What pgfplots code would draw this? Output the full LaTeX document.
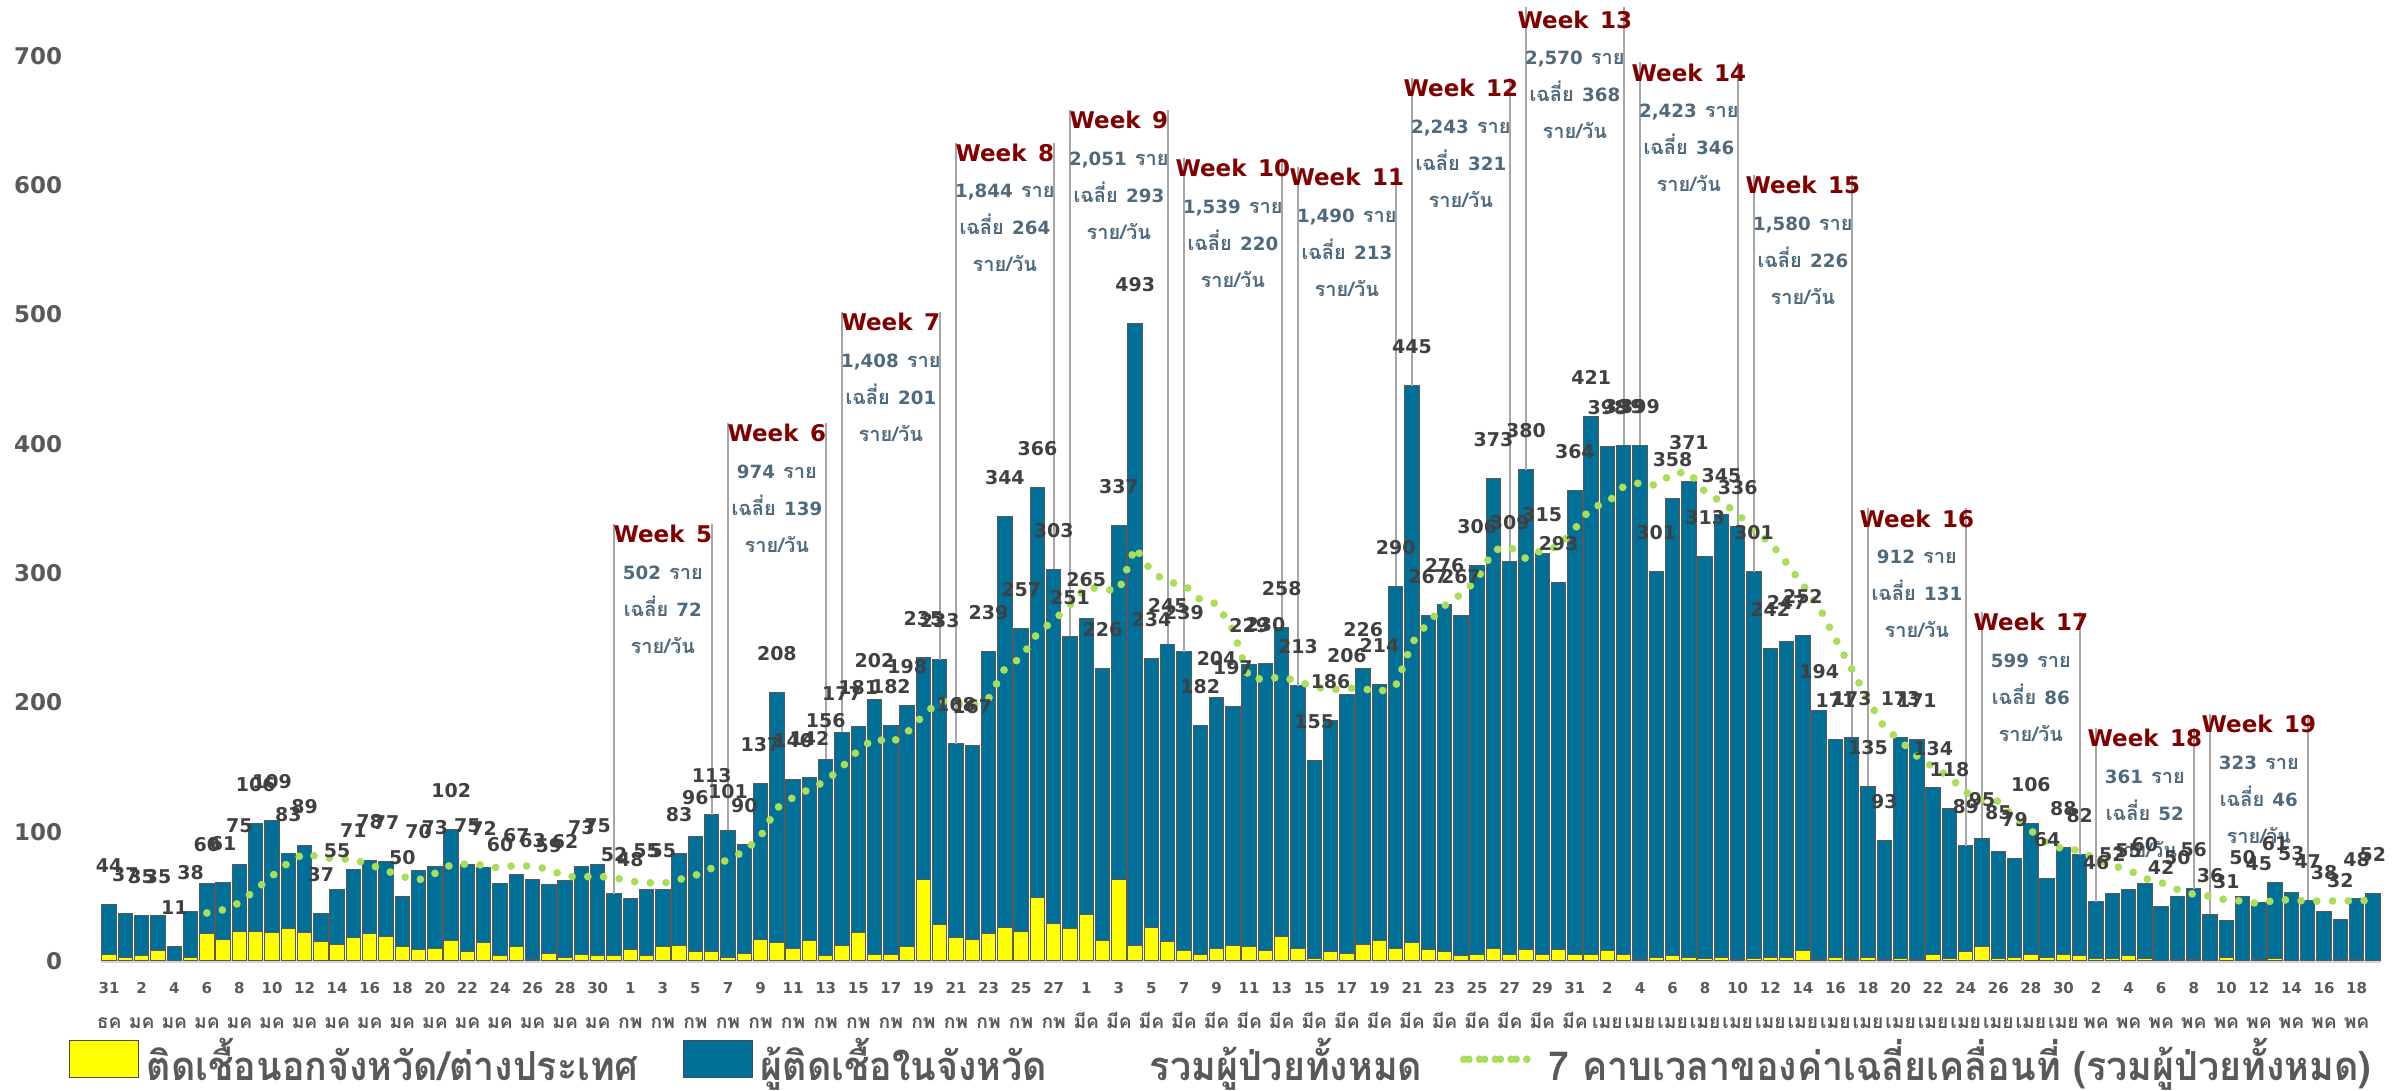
\documentclass[border=0pt]{standalone}
\usepackage{pgfplots}
\usepackage{pgfplotstable}
\pgfplotsset{compat=1.18}
\usepackage{fontspec}
\setmainfont{DejaVu Sans}
\newfontfamily\thai[Script=Thai]{Loma}
\newfontfamily\thaileg[Script=Thai, FakeStretch=0.94]{Loma}
\definecolor{barblue}{RGB}{0,112,153}
\definecolor{baryel}{RGB}{255,255,0}
\definecolor{magreen}{RGB}{170,222,90}
\definecolor{wkred}{RGB}{128,0,0}
\definecolor{wkbody}{RGB}{80,106,125}
\definecolor{lblgray}{RGB}{64,64,64}
\definecolor{tickgray}{RGB}{89,89,89}
\definecolor{linegray}{RGB}{166,166,166}

\pgfplotstableread{
x outp inp tot ma
0 5 39 44 nan
1 3 34 37 nan
2 4 31 35 nan
3 8 27 35 nan
4 0 11 11 nan
5 3 35 38 nan
6 21 39 60 37.14
7 17 44 61 39.57
8 23 52 75 45.00
9 23 83 106 55.14
10 22 87 109 65.71
11 25 58 83 76.00
12 22 67 89 83.29
13 15 22 37 80.00
14 13 42 55 79.14
15 18 53 71 78.57
16 21 57 78 74.57
17 19 58 77 70.00
18 11 39 50 65.29
19 9 61 70 62.57
20 10 63 73 67.71
21 16 86 102 74.43
22 7 68 75 75.00
23 14 58 72 74.14
24 4 56 60 71.71
25 11 56 67 74.14
26 1 62 63 73.14
27 6 53 59 71.14
28 3 59 62 65.43
29 5 68 73 65.14
30 4 71 75 65.57
31 4 48 52 64.43
32 9 39 48 61.71
33 4 51 55 60.57
34 11 44 55 60.00
35 12 71 83 63.00
36 7 89 96 66.29
37 7 106 113 71.71
38 3 98 101 78.71
39 6 84 90 84.71
40 17 120 137 96.43
41 14 194 208 118.29
42 10 130 140 126.43
43 16 126 142 133.00
44 4 152 156 139.14
45 12 165 177 150.00
46 22 159 181 163.00
47 5 197 202 172.29
48 5 177 182 168.57
49 11 187 198 176.86
50 63 172 235 190.14
51 28 205 233 201.14
52 18 150 168 199.86
53 17 150 167 197.86
54 21 218 239 203.14
55 26 318 344 226.29
56 23 234 257 234.71
57 49 317 366 253.43
58 29 274 303 263.43
59 25 226 251 275.29
60 36 229 265 289.29
61 16 210 226 287.43
62 63 274 337 286.43
63 12 481 493 320.14
64 26 208 234 301.29
65 15 230 245 293.00
66 8 231 239 291.29
67 5 177 182 279.43
68 10 194 204 276.29
69 12 185 197 256.29
70 11 218 229 218.57
71 8 222 230 218.00
72 19 239 258 219.86
73 10 203 213 216.14
74 2 153 155 212.29
75 7 179 186 209.71
76 6 200 206 211.00
77 13 213 226 210.57
78 16 198 214 208.29
79 10 280 290 212.86
80 14 431 445 246.00
81 9 258 267 262.00
82 7 269 276 274.86
83 4 263 267 283.57
84 5 301 306 295.00
85 10 363 373 317.71
86 5 304 309 320.43
87 9 371 380 311.14
88 5 310 315 318.00
89 9 284 293 320.43
90 5 359 364 334.29
91 5 416 421 350.71
92 8 390 398 354.29
93 5 394 399 367.14
94 1 398 399 369.86
95 3 298 301 367.86
96 4 354 358 377.14
97 3 368 371 378.14
98 2 311 313 362.71
99 3 342 345 355.14
100 1 335 336 346.14
101 2 299 301 332.14
102 3 239 242 323.71
103 3 244 247 307.86
104 8 244 252 290.86
105 1 193 194 273.86
106 3 168 171 249.00
107 1 172 173 225.71
108 3 132 135 202.00
109 1 92 93 180.71
110 2 171 173 170.14
111 1 170 171 158.57
112 5 129 134 150.00
113 2 116 118 142.43
114 7 82 89 130.43
115 11 84 95 124.71
116 2 83 85 123.57
117 3 76 79 110.14
118 5 101 106 100.86
119 3 61 64 90.86
120 5 83 88 86.57
121 4 78 82 85.57
122 2 44 46 78.57
123 2 50 52 73.86
124 4 51 55 70.43
125 2 58 60 63.86
126 0 42 42 60.71
127 1 49 50 55.29
128 1 55 56 51.57
129 0 36 36 50.14
130 3 28 31 47.14
131 0 50 50 46.43
132 1 44 45 44.29
133 2 59 61 47.00
134 0 53 53 47.43
135 0 47 47 46.14
136 0 38 38 46.43
137 1 31 32 46.57
138 1 47 48 46.29
139 0 52 52 47.29
}\data

\newcommand\tl[2]{#1\\{\thai\fontsize{7.7}{14}\selectfont #2}}
\newcommand\wk[5]{%
  \node[anchor=base, yshift=-3.3pt, text=wkred, font=\fontsize{9.2}{11}\selectfont\bfseries] at (axis cs:#1,#2) {Week\hspace{0.5em}#3};
  \node[anchor=base, yshift=-17.9pt, text=wkbody, font=\fontsize{7.3}{9}\selectfont\bfseries] at (axis cs:#1,#2) {#4\hspace{0.45em}{\thai\fontsize{8}{9}\selectfont ราย}};
  \node[anchor=base, yshift=-32.7pt, text=wkbody, font=\fontsize{7.3}{9}\selectfont\bfseries] at (axis cs:#1,#2) {{\thai\fontsize{8}{9}\selectfont เฉลี่ย}\hspace{0.45em}#5};
  \node[anchor=base, yshift=-47.5pt, text=wkbody, font=\thai\fontsize{8}{9}\selectfont\bfseries] at (axis cs:#1,#2) {ราย/วัน};
}

\pgfplotsset{
  boxlegend/.style={legend image code/.code={\draw[##1] (0pt,-7.35pt) rectangle (27.5pt,7.35pt);}},
  dotlegend/.style={legend image code/.code={\path (0pt,0pt) -- (28.8pt,0pt);\draw[##1] (2pt,0pt) -- (27pt,0pt);}},
  common/.style={
    at={(40.4pt,52pt)}, anchor=south west,
    scale only axis, width=912pt, height=382.7pt,
    xmin=-0.5, xmax=139.5, ymin=0, ymax=740, clip=false,
  },
}

\begin{document}
\begin{tikzpicture}
\useasboundingbox (0,0) rectangle (956.8pt,436.4pt);
\begin{axis}[
  common,
  ybar stacked, bar width=5.75pt,
  axis lines*=left,
  x axis line style={draw=black!17, line width=1.3pt},
  y axis line style={draw=none},
  tick style={draw=none},
  ytick={0,100,...,700},
  /pgf/number format/assume math mode=true,
  yticklabel style={font=\fontsize{9.2}{11}\selectfont\bfseries, text=tickgray, xshift=-12pt},
  xtick={0,2,...,138},
  xticklabels={
  {\tl{31}{ธค}},{\tl{2}{มค}},{\tl{4}{มค}},{\tl{6}{มค}},{\tl{8}{มค}},{\tl{10}{มค}},{\tl{12}{มค}},{\tl{14}{มค}},{\tl{16}{มค}},{\tl{18}{มค}},{\tl{20}{มค}},{\tl{22}{มค}},{\tl{24}{มค}},{\tl{26}{มค}},{\tl{28}{มค}},{\tl{30}{มค}},
  {\tl{1}{กพ}},{\tl{3}{กพ}},{\tl{5}{กพ}},{\tl{7}{กพ}},{\tl{9}{กพ}},{\tl{11}{กพ}},{\tl{13}{กพ}},{\tl{15}{กพ}},{\tl{17}{กพ}},{\tl{19}{กพ}},{\tl{21}{กพ}},{\tl{23}{กพ}},{\tl{25}{กพ}},{\tl{27}{กพ}},
  {\tl{1}{มีค}},{\tl{3}{มีค}},{\tl{5}{มีค}},{\tl{7}{มีค}},{\tl{9}{มีค}},{\tl{11}{มีค}},{\tl{13}{มีค}},{\tl{15}{มีค}},{\tl{17}{มีค}},{\tl{19}{มีค}},{\tl{21}{มีค}},{\tl{23}{มีค}},{\tl{25}{มีค}},{\tl{27}{มีค}},{\tl{29}{มีค}},{\tl{31}{มีค}},
  {\tl{2}{เมย}},{\tl{4}{เมย}},{\tl{6}{เมย}},{\tl{8}{เมย}},{\tl{10}{เมย}},{\tl{12}{เมย}},{\tl{14}{เมย}},{\tl{16}{เมย}},{\tl{18}{เมย}},{\tl{20}{เมย}},{\tl{22}{เมย}},{\tl{24}{เมย}},{\tl{26}{เมย}},{\tl{28}{เมย}},{\tl{30}{เมย}},
  {\tl{2}{พค}},{\tl{4}{พค}},{\tl{6}{พค}},{\tl{8}{พค}},{\tl{10}{พค}},{\tl{12}{พค}},{\tl{14}{พค}},{\tl{16}{พค}},{\tl{18}{พค}}},
  xticklabel style={align=center, font=\fontsize{6}{14}\selectfont\bfseries, text=tickgray, yshift=-5pt},
]
\addplot[fill=baryel, draw=black!65, line width=0.4pt] table[x=x,y=outp]{\data};
\addplot[fill=barblue, draw=black!65, line width=0.4pt] table[x=x,y=inp]{\data};
\end{axis}

\begin{axis}[
  common, hide axis,
  legend columns=4,
  legend cell align=left,
  legend style={at={(-0.01404,-0.1027)}, anchor=west, draw=none, fill=none,
    inner sep=0pt, outer sep=0pt, column sep=0pt,
    nodes={inner sep=0pt, text depth=0pt},
    font=\thaileg\bfseries\fontsize{16}{18}\selectfont, text=tickgray},
]
\addplot[draw=linegray, line width=0.8pt, forget plot, unbounded coords=jump] coordinates {
(31,52) (31,338) (31,nan) (37,113) (37,338) (37,nan)
(38,101) (38,416) (38,nan) (44,156) (44,416) (44,nan)
(45,177) (45,502) (45,nan) (51,233) (51,502) (51,nan)
(52,168) (52,633) (52,nan) (58,303) (58,633) (58,nan)
(59,251) (59,658) (59,nan) (65,245) (65,658) (65,nan)
(66,239) (66,621) (66,nan) (72,258) (72,621) (72,nan)
(73,213) (73,614) (73,nan) (79,290) (79,614) (79,nan)
(80,445) (80,683) (80,nan) (86,309) (86,683) (86,nan)
(87,380) (87,738) (87,nan) (93,399) (93,738) (93,nan)
(94,399) (94,695) (94,nan) (100,336) (100,695) (100,nan)
(101,301) (101,608) (101,nan) (107,173) (107,608) (107,nan)
(108,135) (108,350) (108,nan) (114,89) (114,350) (114,nan)
(115,95) (115,270) (115,nan) (121,82) (121,270) (121,nan)
(122,46) (122,180) (122,nan) (128,56) (128,180) (128,nan)
(129,36) (129,191) (129,nan) (135,47) (135,191)
};
\addplot[magreen, line width=3.1pt, line cap=round, dash pattern=on 0pt off 6.3pt, forget plot] table[x=x,y=ma]{\data};
\addplot[draw=none, mark=none, forget plot, nodes near coords, point meta=explicit symbolic,
  every node near coord/.append style={anchor=base, yshift=12.8pt, font=\fontsize{7.6}{9}\selectfont\bfseries, text=lblgray}]
  table[x=x,y=tot,meta=tot]{\data};
\wk{34}{330}{5}{502}{72}
\wk{41}{408}{6}{974}{139}
\wk{48}{494}{7}{1,408}{201}
\wk{55}{625}{8}{1,844}{264}
\wk{62}{650}{9}{2,051}{293}
\wk{69}{613}{10}{1,539}{220}
\wk{76}{606}{11}{1,490}{213}
\wk{83}{675}{12}{2,243}{321}
\wk{90}{728}{13}{2,570}{368}
\wk{97}{687}{14}{2,423}{346}
\wk{104}{600}{15}{1,580}{226}
\wk{111}{342}{16}{912}{131}
\wk{118}{262}{17}{599}{86}
\wk{125}{172}{18}{361}{52}
\wk{132}{183}{19}{323}{46}
\addlegendimage{boxlegend, fill=baryel, draw=black!70}
\addlegendentry{\makebox[217.7pt][l]{\hspace*{3.2pt}ติดเชื้อนอกจังหวัด/ต่างประเทศ}}
\addlegendimage{boxlegend, fill=barblue, draw=black!70}
\addlegendentry{\makebox[158.9pt][l]{\hspace*{3.2pt}ผู้ติดเชื้อในจังหวัด}}
\addlegendimage{empty legend}
\addlegendentry{\makebox[124pt][l]{รวมผู้ป่วยทั้งหมด}}
\addlegendimage{dotlegend, magreen, line width=3.1pt, line cap=round, dash pattern=on 0pt off 6.3pt}
\addlegendentry{\makebox[334.4pt][l]{\hspace*{3.6pt}7 คาบเวลาของค่าเฉลี่ยเคลื่อนที่ (รวมผู้ป่วยทั้งหมด)}}
\end{axis}
\end{tikzpicture}
\end{document}
